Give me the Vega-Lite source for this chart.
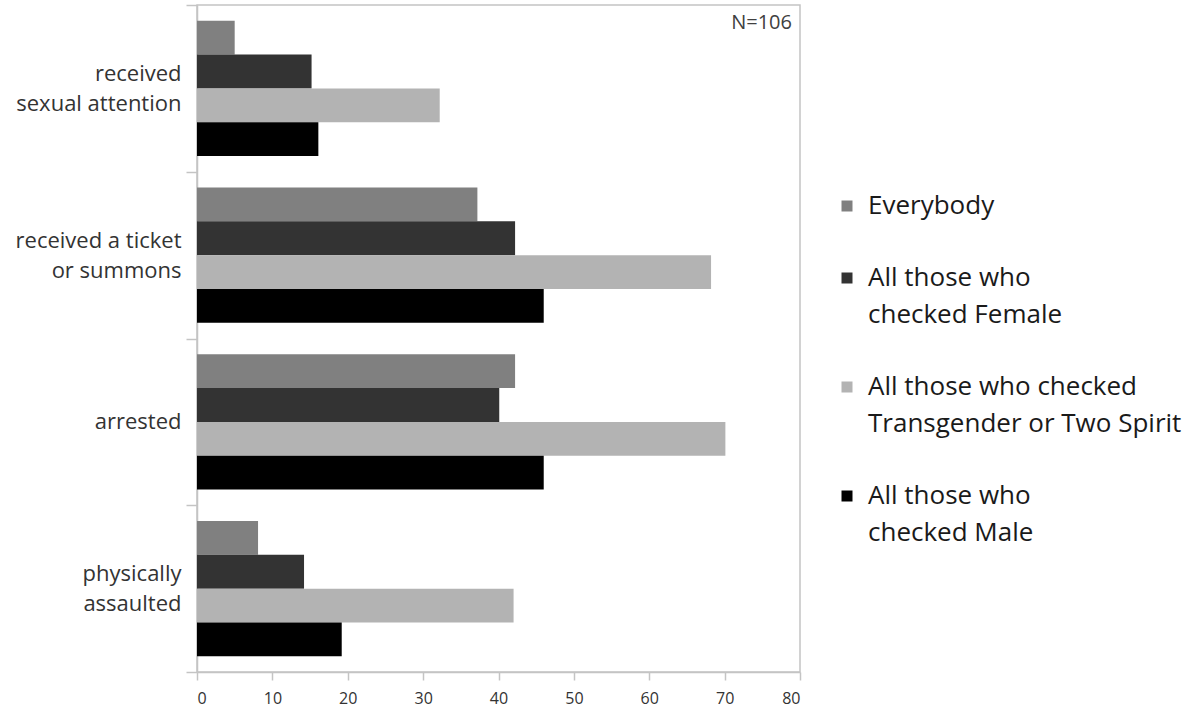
{
  "$schema": "https://vega.github.io/schema/vega-lite/v6.json",
  "width": 603,
  "height": 667,
  "autosize": {"type": "none"},
  "padding": {"left": 197, "top": 5, "right": 403, "bottom": 41},
  "background": "white",
  "config": {
    "view": {"stroke": "#c4c4c4", "strokeWidth": 1.5},
    "font": "Open Sans"
  },
  "title": {
    "text": "N=106",
    "orient": "top",
    "anchor": "end",
    "frame": "group",
    "baseline": "top",
    "offset": -30,
    "dx": -8,
    "dy": 9,
    "fontSize": 20,
    "fontWeight": "normal",
    "color": "#404040",
    "font": "Open Sans"
  },
  "data": {
    "values": [
      {"category": "received|sexual attention", "group": "Everybody", "value": 5.0},
      {"category": "received|sexual attention", "group": "All those who|checked Female", "value": 15.2},
      {"category": "received|sexual attention", "group": "All those who checked|Transgender or Two Spirit", "value": 32.2},
      {"category": "received|sexual attention", "group": "All those who|checked Male", "value": 16.1},
      {"category": "received a ticket|or summons", "group": "Everybody", "value": 37.2},
      {"category": "received a ticket|or summons", "group": "All those who|checked Female", "value": 42.2},
      {"category": "received a ticket|or summons", "group": "All those who checked|Transgender or Two Spirit", "value": 68.2},
      {"category": "received a ticket|or summons", "group": "All those who|checked Male", "value": 46.0},
      {"category": "arrested", "group": "Everybody", "value": 42.2},
      {"category": "arrested", "group": "All those who|checked Female", "value": 40.1},
      {"category": "arrested", "group": "All those who checked|Transgender or Two Spirit", "value": 70.1},
      {"category": "arrested", "group": "All those who|checked Male", "value": 46.0},
      {"category": "physically|assaulted", "group": "Everybody", "value": 8.1},
      {"category": "physically|assaulted", "group": "All those who|checked Female", "value": 14.2},
      {"category": "physically|assaulted", "group": "All those who checked|Transgender or Two Spirit", "value": 42.0},
      {"category": "physically|assaulted", "group": "All those who|checked Male", "value": 19.2}
    ]
  },
  "mark": {"type": "bar"},
  "encoding": {
    "y": {
      "field": "category",
      "type": "nominal",
      "sort": ["received|sexual attention", "received a ticket|or summons", "arrested", "physically|assaulted"],
      "scale": {"paddingInner": 0, "paddingOuter": 0},
      "axis": {
        "title": null,
        "tickBand": "extent",
        "labelExpr": "datum.value ? split(datum.value, '|') : ''",
        "labelOffset": {"condition": {"test": "datum.value && indexof(datum.value, '|') >= 0", "value": -15}, "value": 0},
        "labelFontSize": 22,
        "labelLineHeight": 30,
        "labelColor": "#333333",
        "labelPadding": 5,
        "labelFont": "Open Sans",
        "tickSize": 11,
        "tickColor": "#c4c4c4",
        "tickWidth": 1.5,
        "domainColor": "#c4c4c4",
        "domainWidth": 1.5,
        "labelLimit": 300
      }
    },
    "yOffset": {
      "field": "group",
      "sort": ["Everybody", "All those who|checked Female", "All those who checked|Transgender or Two Spirit", "All those who|checked Male"],
      "scale": {"paddingInner": 0, "paddingOuter": 0.47}
    },
    "x": {
      "field": "value",
      "type": "quantitative",
      "scale": {"domain": [0, 80], "nice": false},
      "axis": {
        "title": null,
        "values": [0, 10, 20, 30, 40, 50, 60, 70, 80],
        "grid": false,
        "labelFontSize": 16,
        "labelColor": "#333333",
        "labelFont": "Open Sans",
        "tickSize": 8,
        "tickColor": "#c4c4c4",
        "tickWidth": 1.5,
        "domainColor": "#c4c4c4",
        "domainWidth": 1.5,
        "labelPadding": 10
      }
    },
    "color": {
      "field": "group",
      "type": "nominal",
      "scale": {
        "domain": ["Everybody", "All those who|checked Female", "All those who checked|Transgender or Two Spirit", "All those who|checked Male"],
        "range": ["#808080", "#333333", "#b3b3b3", "#000000"]
      },
      "legend": {
        "title": null,
        "orient": "none",
        "legendX": 637,
        "legendY": 188,
        "padding": 0,
        "symbolType": "square",
        "symbolSize": 121,
        "symbolStrokeWidth": 0,
        "labelExpr": "split(datum.label, '|')",
        "labelFontSize": 26,
        "labelColor": "#1a1a1a",
        "labelFont": "Open Sans",
        "labelOffset": 8,
        "labelLimit": 500,
        "rowPadding": 46,
        "encode": {"labels": {"update": {"lineHeight": {"value": 37}}}}
      }
    }
  }
}
